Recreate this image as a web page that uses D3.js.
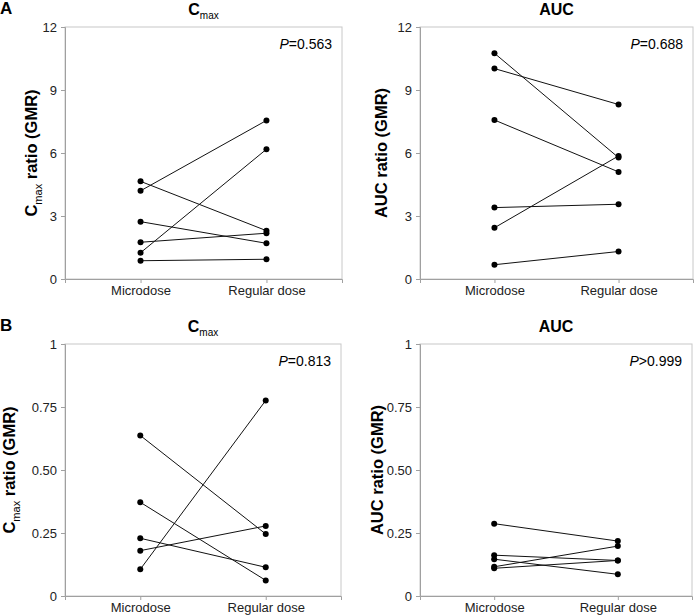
<!DOCTYPE html>
<html>
<head>
<meta charset="utf-8">
<script src="https://cdn.jsdelivr.net/npm/d3@7"></script>
<style>
  body { margin: 0; background: #fff; }
  svg text { font-family: "Liberation Sans", Arial, sans-serif; }
</style>
</head>
<body>
<div id="chart"></div>
<script>
// Categories
const groups = ["Microdose", "Regular dose"];

// Paired values [microdose, regular dose] per subject
const cmaxA = [[4.2, 7.55], [1.25, 6.18], [4.65, 2.3], [2.73, 1.7], [1.75, 2.18], [0.87, 0.94]];
const aucA = [[10.75, 5.78], [10.02, 8.31], [7.57, 5.1], [3.4, 3.56], [2.44, 5.86], [0.68, 1.31]];
const cmaxB = [[0.637, 0.246], [0.372, 0.062], [0.229, 0.114], [0.18, 0.278], [0.106, 0.776]];
const aucB = [[0.287, 0.218], [0.162, 0.141], [0.146, 0.086], [0.116, 0.198], [0.11, 0.141]];

// Axis ticks
const ticksA = [0, 3, 6, 9, 12];
const ticksB = [0, 0.25, 0.5, 0.75, 1];
const tickLabelsB = ["0", "0.25", "0.50", "0.75", "1"];

const svg = d3.select("#chart").append("svg")
  .attr("width", 697)
  .attr("height", 616);

const panels = [
  { data: cmaxA, x0: 65, x1: 342, y0: 27, y1: 279, max: 12, ticks: ticksA, labels: ticksA.map(String), title: "cmax", p: "=0.563", ylab: "cmax", lx: 28 },
  { data: aucA, x0: 420, x1: 693, y0: 27, y1: 279, max: 12, ticks: ticksA, labels: ticksA.map(String), title: "AUC", p: "=0.688", ylab: "auc", lx: 33 },
  { data: cmaxB, x0: 65, x1: 341, y0: 344, y1: 596, max: 1, ticks: ticksB, labels: tickLabelsB, title: "cmax", p: "=0.813", ylab: "cmax", lx: 50 },
  { data: aucB, x0: 420, x1: 692, y0: 344, y1: 596, max: 1, ticks: ticksB, labels: tickLabelsB, title: "AUC", p: ">0.999", ylab: "auc", lx: 37 }
];

const axisColor = "#a0a0a0";

panels.forEach(function(pn) {
  const x = d3.scalePoint()
    .domain(groups)
    .range([pn.x0, pn.x1])
    .padding(0.6);
  const y = d3.scaleLinear()
    .domain([0, pn.max])
    .range([pn.y1, pn.y0]);

  const g = svg.append("g");

  // frame
  g.append("rect")
    .attr("x", pn.x0)
    .attr("y", pn.y0)
    .attr("width", pn.x1 - pn.x0)
    .attr("height", pn.y1 - pn.y0)
    .attr("fill", "none")
    .attr("stroke", "#c8c8c8");

  // y axis
  const yAxis = g.append("g")
    .attr("transform", `translate(${pn.x0},0)`)
    .call(d3.axisLeft(y).tickValues(pn.ticks).tickSize(4).tickPadding(4)
      .tickFormat((d, i) => pn.labels[i]));
  yAxis.select(".domain").attr("stroke", axisColor);
  yAxis.selectAll(".tick line").attr("stroke", axisColor);
  yAxis.selectAll(".tick text")
    .attr("font-size", 13)
    .attr("fill", "#222")
    .attr("font-family", "Liberation Sans, Arial, sans-serif");

  // x axis
  const xAxis = g.append("g")
    .attr("transform", `translate(0,${pn.y1})`)
    .call(d3.axisBottom(x).tickSize(4).tickPadding(3));
  xAxis.select(".domain").attr("stroke", axisColor);
  xAxis.selectAll(".tick line").attr("stroke", axisColor);
  xAxis.selectAll(".tick text")
    .attr("font-size", 13)
    .attr("fill", "#222")
    .attr("font-family", "Liberation Sans, Arial, sans-serif");

  // paired lines
  g.selectAll("line.pair")
    .data(pn.data)
    .enter().append("line")
    .attr("class", "pair")
    .attr("x1", x(groups[0]))
    .attr("x2", x(groups[1]))
    .attr("y1", d => y(d[0]))
    .attr("y2", d => y(d[1]))
    .attr("stroke", "#111")
    .attr("stroke-width", 1);

  // points
  const pts = [];
  pn.data.forEach(d => {
    pts.push({ g: groups[0], v: d[0] });
    pts.push({ g: groups[1], v: d[1] });
  });
  g.selectAll("circle")
    .data(pts)
    .enter().append("circle")
    .attr("cx", d => x(d.g))
    .attr("cy", d => y(d.v))
    .attr("r", 3)
    .attr("fill", "#000");

  // title
  const cx = (pn.x0 + pn.x1) / 2;
  const title = g.append("text")
    .attr("x", cx)
    .attr("y", pn.y0 - 12)
    .attr("text-anchor", "middle")
    .attr("font-size", 16)
    .attr("font-weight", "bold");
  if (pn.title === "cmax") {
    title.append("tspan").text("C");
    title.append("tspan").attr("font-size", 10).attr("font-weight", "normal").attr("dy", 4).text("max");
  } else {
    title.text("AUC");
  }

  // P value
  const pt = g.append("text")
    .attr("x", pn.x1 - 10)
    .attr("y", pn.y0 + 22)
    .attr("text-anchor", "end")
    .attr("font-size", 14);
  pt.append("tspan").attr("font-style", "italic").text("P");
  pt.append("tspan").text(pn.p);

  // y label
  const ly = (pn.y0 + pn.y1) / 2;
  const yl = g.append("text")
    .attr("transform", `translate(${pn.x0 - pn.lx},${ly}) rotate(-90)`)
    .attr("text-anchor", "middle")
    .attr("font-size", 16.5)
    .attr("font-weight", "bold");
  if (pn.ylab === "cmax") {
    yl.append("tspan").text("C");
    yl.append("tspan").attr("font-size", 11).attr("font-weight", "normal").attr("dy", 5).text("max");
    yl.append("tspan").attr("dy", -5).text(" ratio (GMR)");
  } else {
    yl.text("AUC ratio (GMR)");
  }
});

// panel letters
svg.append("text").attr("x", 0).attr("y", 14).attr("font-size", 17).attr("font-weight", "bold").text("A");
svg.append("text").attr("x", 0).attr("y", 331).attr("font-size", 17).attr("font-weight", "bold").text("B");
</script>
</body>
</html>
